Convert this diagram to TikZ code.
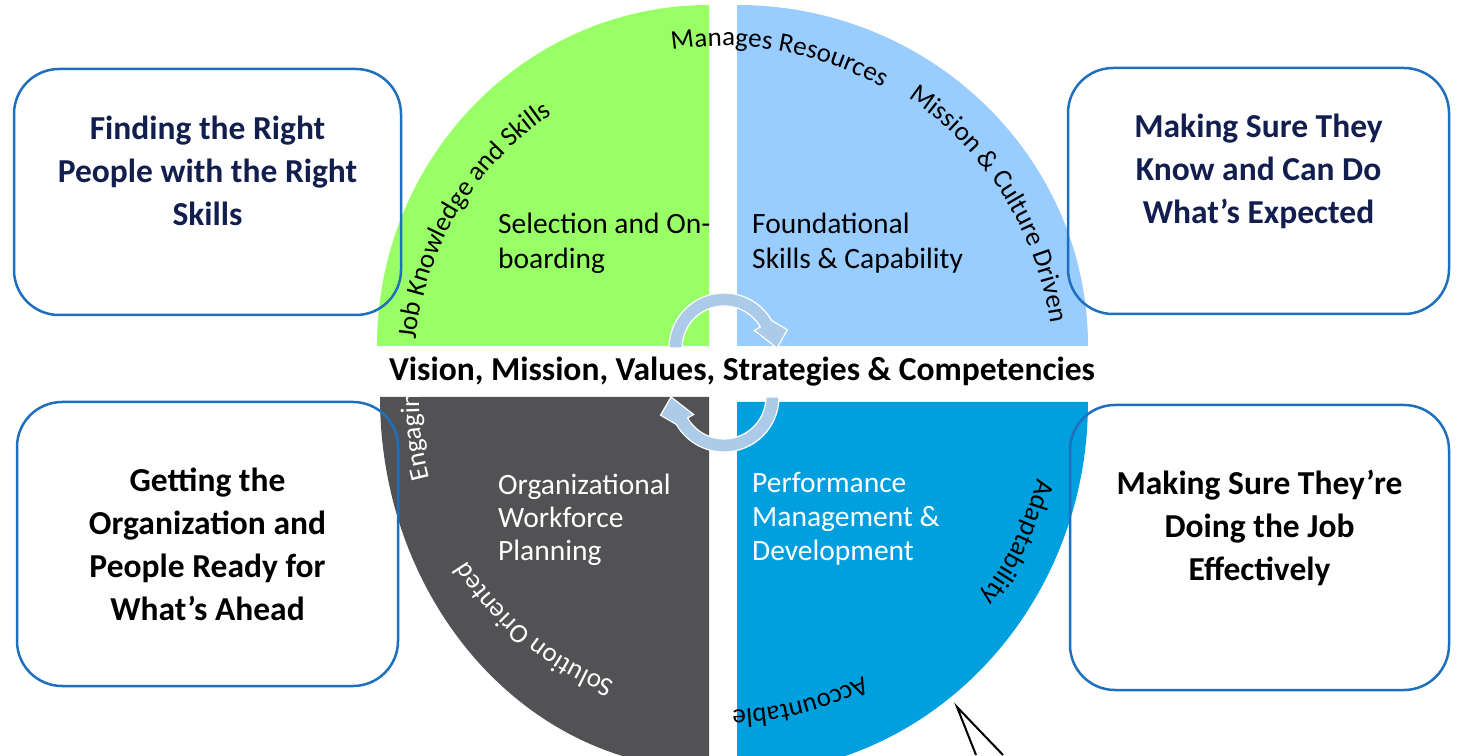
\documentclass[tikz,border=0pt]{standalone}
\usepackage{fontspec}
\setmainfont{Carlito}
\usetikzlibrary{decorations.text,positioning}

\definecolor{qgreen}{RGB}{153,255,102}
\definecolor{qlight}{RGB}{153,204,255}
\definecolor{qdark}{RGB}{82,82,84}
\definecolor{qblue}{RGB}{0,160,222}
\definecolor{ringblue}{RGB}{172,203,233}
\definecolor{boxline}{RGB}{30,112,190}
\definecolor{navy}{RGB}{18,30,78}

\newcommand\rimfont{\fontsize{27}{27}\selectfont}

\tikzset{
  goalbox/.style={draw=boxline, line width=2.5pt, rounded corners=45pt},
  goaltext/.style={font=\bfseries\fontsize{33.5}{43}\selectfont, align=center},
  areatext/.style={font=\fontsize{29.5}{35}\selectfont, align=left, anchor=west,
    inner sep=0pt},
  rimtext/.style={decorate, decoration={text along path, text align=left,
      text={|\rimfont|#1}}},
  rimwhite/.style={rimtext={#1}, decoration={text color=white}},
  cycler/.style={fill=ringblue, draw=white, line width=1.2pt},
}

\begin{document}
\begin{tikzpicture}[x=1pt, y=1pt]
  \clip (0,0) rectangle (1458,755);

  % four quarters of the wheel
  \fill[qgreen] (709,409) -- (377,409)
    arc[start angle=180, end angle=90, x radius=332pt, y radius=341pt] -- cycle;
  \fill[qlight] (737,409) -- (737,750)
    arc[start angle=90, end angle=0, x radius=351pt, y radius=341pt] -- cycle;
  \fill[qdark] (709,358) -- (380,358)
    arc[start angle=180, end angle=270, x radius=329pt, y radius=372pt] -- cycle;
  \fill[qblue] (737,353) -- (1088,353)
    arc[start angle=0, end angle=-90, x radius=351pt, y radius=372pt] -- cycle;

  % turning arrows round the centre
  \begin{scope}[shift={(724,407)}]
    \filldraw[cycler] (180:55pt) arc[start angle=180, end angle=30, radius=55pt]
      -- (16:66pt) -- (0:53pt) -- (30:35pt) -- (30:42pt)
      arc[start angle=30, end angle=180, radius=42pt] -- cycle;
  \end{scope}
  \begin{scope}[shift={(724,358)}, rotate=180]
    \filldraw[cycler] (180:55pt) arc[start angle=180, end angle=30, radius=55pt]
      -- (16:66pt) -- (0:53pt) -- (30:35pt) -- (30:42pt)
      arc[start angle=30, end angle=180, radius=42pt] -- cycle;
  \end{scope}

  % words round the rim
  \begin{scope}[shift={(723,383)}]
    \path[rimtext={Manages Resources}] (99:326pt)
      arc[start angle=99, end angle=10, radius=326pt];
    \path[rimtext={Job Knowledge and Skills}] (174:309pt)
      arc[start angle=174, end angle=85, radius=309pt];
    \path[rimtext={Mission {\&} Culture Driven}] (56:331pt)
      arc[start angle=56, end angle=-30, radius=331pt];
  \end{scope}
  \begin{scope}[shift={(723,355)}]
    \path[rimwhite={Engaging}] (195:304pt)
      arc[start angle=195, end angle=140, radius=304pt];
    \path[rimwhite={Solution Oriented}] (249:302pt)
      arc[start angle=249, end angle=170, radius=302pt];
    \path[rimtext={Accountable}] (297:310pt)
      arc[start angle=297, end angle=230, radius=310pt];
    \path[rimtext={Adaptability}] (-14:324pt)
      arc[start angle=-14, end angle=-80, radius=324pt];
  \end{scope}

  % what each quarter covers
  \node[areatext] (select) at (498,512) {Selection and On-\\boarding};
  \node[areatext] (found) at (752,512) {Foundational\\Skills \& Capability};
  \node[areatext, text=white, font=\fontsize{29.5}{33}\selectfont] (plan) at (498,235)
    {Organizational\\Workforce\\Planning};
  \node[areatext, text=white, font=\fontsize{29.5}{34}\selectfont] (perf) at (752,236)
    {Performance\\Management \&\\Development};

  \node[font=\bfseries\fontsize{33.5}{33.5}\selectfont, anchor=base] (core) at (742,374)
    {Vision, Mission, Values, Strategies \& Competencies};

  % the four goals
  \node[goalbox, minimum width=387pt, minimum height=246pt] (findbox) at (207.5,563) {};
  \node[goalbox, minimum width=381pt, minimum height=284pt] (readybox) at (207.5,211) {};
  \node[goalbox, minimum width=381pt, minimum height=246pt] (knowbox) at (1258.5,564) {};
  \node[goalbox, minimum width=379pt, minimum height=285pt] (doingbox) at (1259.5,207.5) {};

  \node[goaltext, text=navy] (findtext) at ([yshift=21pt]findbox.center)
    {Finding the Right\\People with the Right\\Skills};
  \node[goaltext] (readytext) at (readybox.center)
    {Getting the\\Organization and\\People Ready for\\What’s Ahead};
  \node[goaltext, text=navy] (knowtext) at ([yshift=20pt]knowbox.center)
    {Making Sure They\\Know and Can Do\\What’s Expected};
  \node[goaltext] (doingtext) at ([yshift=20pt]doingbox.center)
    {Making Sure They’re\\Doing the Job\\Effectively};

  % pointer coming up from below
  \coordinate (tip) at (957,48);
  \coordinate (legl) at (976,0);
  \coordinate (legr) at (1003,0);
  \draw[line width=2pt] (legl) -- (tip) -- (legr);
\end{tikzpicture}
\end{document}
